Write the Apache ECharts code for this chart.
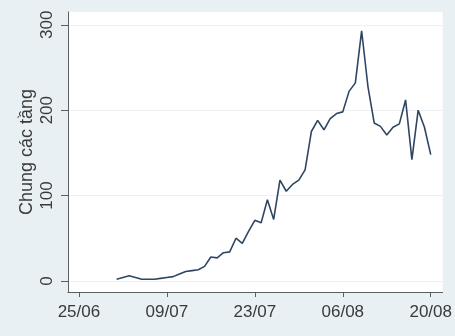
<!DOCTYPE html>
<html>
<head>
<meta charset="utf-8">
<script src="https://cdn.jsdelivr.net/npm/echarts@6/dist/echarts.min.js"></script>
<style>
html,body{margin:0;padding:0;background:#e9f0f3;}
#chart{width:455px;height:336px;}
</style>
</head>
<body>
<div id="chart"></div>
<script>
const dates = ['01/07','02/07','03/07','04/07','05/07','06/07','07/07','08/07','09/07','10/07',
  '11/07','12/07','13/07','14/07','15/07','16/07','17/07','18/07','19/07','20/07',
  '21/07','22/07','23/07','24/07','25/07','26/07','27/07','28/07','29/07','30/07','31/07',
  '01/08','02/08','03/08','04/08','05/08','06/08','07/08','08/08','09/08','10/08',
  '11/08','12/08','13/08','14/08','15/08','16/08','17/08','18/08','19/08','20/08'];
const values = [2,4,6,4,2,2,2,3,4,5,
  8,11,12,13,17,28,27,33,34,50,
  44,58,71,68,95,72,118,105,113,118,
  130,175,188,177,190,196,198,222,232,293,
  228,185,181,171,180,184,212,142,200,180,
  148];
const xTickLabels = ['25/06','09/07','23/07','06/08','20/08'];
const yTickValues = [0,100,200,300];
const yTitle = 'Chung các tầng';

function dayOffset(s){
  const [dd, mm] = s.split('/').map(Number);
  return (Date.UTC(2021, mm-1, dd) - Date.UTC(2021, 5, 25)) / 86400000;
}
const xTickPos = xTickLabels.map(dayOffset);
const labelByPos = {};
xTickPos.forEach((p,i)=>{ labelByPos[p] = xTickLabels[i]; });

const font = 'Liberation Sans, Arial, sans-serif';
const chart = echarts.init(document.getElementById('chart'), null, {renderer:'canvas'});
chart.setOption({
  backgroundColor: '#e9f0f3',
  animation: false,
  grid: {left: 68, right: 10, top: 12, bottom: 44, show: true, backgroundColor: '#ffffff', borderWidth: 0},
  xAxis: {
    type: 'value', min: -1.74, max: 57.9,
    axisLine: {show: true, onZero: false, lineStyle: {color: '#5a5f63', width: 1}},
    axisTick: {show: true, length: 5, customValues: xTickPos, lineStyle: {color: '#5a5f63'}},
    axisLabel: {customValues: xTickPos, formatter: v => labelByPos[Math.round(v)] || '', margin: 12,
      fontSize: 17, color: '#3a3a3a', fontFamily: font},
    splitLine: {show: false}
  },
  yAxis: {
    type: 'value', min: -13, max: 315,
    axisLine: {show: true, onZero: false, lineStyle: {color: '#5a5f63', width: 1}},
    axisTick: {show: true, length: 7, customValues: yTickValues, lineStyle: {color: '#5a5f63'}},
    axisLabel: {customValues: yTickValues, rotate: 90, margin: 12, fontSize: 17, color: '#3a3a3a', fontFamily: font},
    splitLine: {show: true, lineStyle: {color: '#edf0f2', width: 1}},
    name: yTitle, nameLocation: 'middle', nameGap: 32, nameRotate: 90, nameMoveOverlap: false,
    nameTextStyle: {fontSize: 18, color: '#3a3a3a', fontFamily: font}
  },
  series: [{
    type: 'line', showSymbol: false, symbol: 'none',
    data: dates.map((d,i) => [dayOffset(d), values[i]]),
    lineStyle: {color: '#2f4663', width: 1.6}
  }]
});
</script>
</body>
</html>
